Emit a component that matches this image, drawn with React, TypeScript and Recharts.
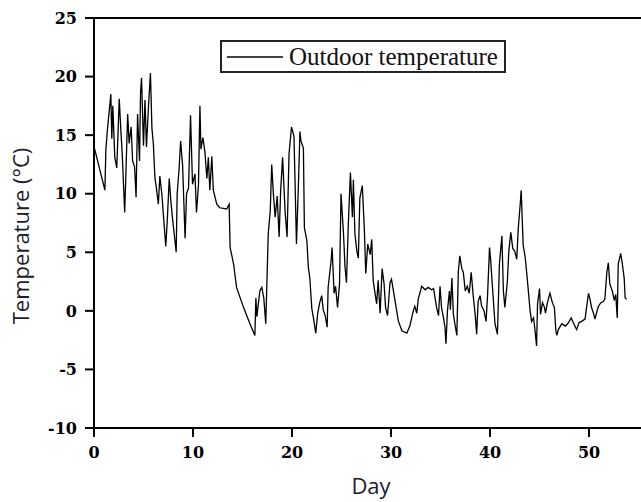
import { LineChart, Line, XAxis, YAxis, ReferenceLine, Legend } from 'recharts';

const days = [
    0, 0.1, 1.1, 1.2, 1.35, 1.7, 1.8, 1.9, 2.1, 2.3, 2.55, 2.7, 2.85, 3.1, 3.2, 3.4, 3.55, 3.75, 3.9,
    4.1, 4.25, 4.4, 4.6, 4.7, 4.8, 5.0, 5.15, 5.3, 5.5, 5.7, 5.85, 6.0, 6.15, 6.3, 6.5, 6.65, 6.85,
    7.0, 7.25, 7.4, 7.6, 7.75, 7.95, 8.15, 8.3, 8.4, 8.6, 8.75, 8.95, 9.2, 9.35, 9.55, 9.75,
    9.95, 10.2, 10.35, 10.55, 10.7, 10.8, 11.0, 11.2, 11.4, 11.55, 11.7, 11.9, 12.05, 12.4, 12.7,
    13.4, 13.65, 13.75, 14.1, 14.4, 15.1, 15.75, 16.25, 16.35, 16.45, 16.6, 16.75, 16.95, 17.15,
    17.35, 17.6, 17.8, 17.95, 18.1, 18.3, 18.5, 18.7, 18.85, 19.05, 19.3, 19.5, 19.7, 19.95, 20.2,
    20.45, 20.65, 20.8, 20.9, 21.15, 21.25, 21.5, 21.65, 21.8, 22.0, 22.2, 22.4, 22.6, 22.8, 23.0,
    23.15, 23.35, 23.55, 23.65, 23.95, 24.05, 24.25, 24.4, 24.6, 24.8, 24.95, 25.2, 25.35, 25.5,
    25.7, 25.9, 26.1, 26.2, 26.35, 26.55, 26.7, 26.85, 27.1, 27.3, 27.45, 27.65, 27.9, 28.05, 28.2,
    28.4, 28.55, 28.7, 28.9, 29.1, 29.3, 29.45, 29.65, 29.9, 30.05, 30.4, 30.75, 31.1, 31.6, 31.9,
    32.25, 32.4, 32.6, 32.75, 33.1, 33.45, 33.75, 34.1, 34.3, 34.6, 34.8, 34.95, 35.1, 35.3, 35.45,
    35.55, 35.7, 35.9, 36.0, 36.15, 36.3, 36.45, 36.65, 36.8, 36.95, 37.15, 37.3, 37.5, 37.7, 37.9,
    38.1, 38.3, 38.5, 38.65, 38.8, 39.0, 39.15, 39.4, 39.6, 39.75, 39.95, 40.05, 40.25, 40.5, 40.75,
    40.95, 41.2, 41.35, 41.5, 41.75, 41.9, 42.1, 42.3, 42.5, 42.7, 42.85, 43.05, 43.15, 43.35, 43.55,
    43.7, 43.85, 44.05, 44.2, 44.4, 44.55, 44.7, 44.8, 45.0, 45.1, 45.3, 45.5, 45.6, 45.8, 46.05,
    46.3, 46.5, 46.65, 46.75, 46.9, 47.25, 47.6, 47.85, 48.2, 48.4, 48.75, 49.0, 49.25, 49.6, 49.75,
    49.95, 50.1, 50.25, 50.45, 50.6, 50.75, 50.95, 51.2, 51.45, 51.6, 51.8, 51.95, 52.1, 52.35,
    52.55, 52.7, 52.85, 52.95, 53.2, 53.35, 53.55, 53.65, 53.8,
];

// outdoor temperature, °C
const temps = [
    14.0, 13.7, 10.3, 13.8, 15.4, 18.5, 14.7, 17.5, 13.1, 12.2, 18.1, 15.6, 13.4, 8.4, 11.1, 16.8, 14.3, 15.7, 12.8,
    12.3, 9.7, 16.8, 12.8, 18.6, 19.9, 14.1, 18.0, 14.0, 17.4, 20.3, 15.6, 14.2, 11.4, 10.5, 9.1, 11.5, 10.0,
    8.3, 5.5, 7.7, 11.3, 9.5, 7.7, 6.2, 5.0, 10.0, 12.2, 14.5, 12.4, 6.2, 10.0, 10.5, 16.7,
    10.8, 11.7, 8.4, 10.7, 17.5, 13.8, 14.8, 13.6, 11.3, 13.1, 10.3, 13.2, 10.3, 9.1, 8.8,
    8.7, 9.1, 5.4, 4.0, 2.0, 0.3, -1.1, -2.1, 1.1, -0.5, 0.6, 1.7, 2.0, 1.1,
    -1.1, 6.6, 8.5, 12.5, 10.2, 8.0, 9.8, 6.3, 10.2, 13.1, 8.5, 6.3, 13.4, 15.7, 14.9,
    5.7, 10.8, 15.3, 14.5, 13.9, 7.1, 6.0, 3.7, 2.8, 0.2, -0.8, -1.9, -0.2, 0.7, 1.3,
    0.1, -0.4, -1.4, 2.0, 4.3, 5.4, 1.5, 2.1, 0.3, 2.3, 10.0, 6.6, 3.8, 2.4,
    7.7, 11.8, 8.0, 11.2, 6.6, 5.1, 4.5, 9.6, 10.7, 7.1, 3.2, 5.7, 4.8, 6.1, 2.6,
    1.4, 0.6, 2.6, -0.2, 3.6, 2.3, 0.3, -0.4, 2.4, 2.7, 0.9, -0.9, -1.7, -1.9, -1.3,
    0.0, 0.4, -0.2, 1.0, 2.1, 1.8, 2.0, 1.8, 1.9, 0.3, -0.4, 2.1, 0.3, -0.6, -1.4,
    -2.8, 0.0, 1.7, 0.1, 2.8, -0.3, -1.1, -2.1, 3.4, 4.7, 3.6, 3.3, 1.7, 2.1, 1.5,
    3.3, 1.3, -0.3, -2.0, 0.8, 1.3, 0.4, 0.0, -0.9, 1.3, 5.4, 4.5, 2.0, -1.1, -2.0,
    4.0, 6.4, 1.7, 0.3, 2.5, 5.1, 6.7, 5.3, 5.1, 4.4, 7.0, 9.1, 10.3, 5.6, 4.6,
    3.3, 1.9, 0.0, -0.9, -0.6, -1.7, -3.0, 0.6, 1.9, -0.3, 0.7, 0.3, -0.2, 0.7, 1.5,
    0.7, 0.3, -1.7, -2.1, -1.6, -1.1, -1.3, -1.1, -0.6, -1.0, -1.6, -1.0, -0.9, -0.7, 0.3,
    1.5, 1.0, 0.3, -0.2, -0.7, -0.2, 0.4, 0.7, 0.8, 1.0, 3.3, 4.1, 2.3, 1.7,
    0.9, 1.4, -0.6, 4.0, 4.9, 4.1, 2.8, 1.1, 1.0,
];

const dayTicks = [0, 10, 20, 30, 40, 50];
const tempTicks = [-10, -5, 0, 5, 10, 15, 20, 25];
const seriesName = 'Outdoor temperature';

const data = days.map((day, i) => ({ day, temp: temps[i] }));

const tickFont = { fontFamily: '"DejaVu Serif", serif', fontWeight: 700, fontSize: 16, fill: '#000' };
const titleFont = { fontFamily: '"Open Sans", sans-serif', fontSize: 22, fill: '#1c1c2c' };
const axisStroke = { stroke: '#000', strokeWidth: 2 };

const LegendBox = () => (
    <div
        style={{
            boxSizing: 'border-box',
            width: 286,
            height: 33,
            border: '2px solid #222',
            background: '#fff',
            display: 'flex',
            alignItems: 'center',
        }}
    >
        <svg width={62} height={4} style={{ marginLeft: 5 }}>
            <line x1={0} y1={2} x2={56} y2={2} stroke="#000" strokeWidth={1.5} />
        </svg>
        <span style={{ fontFamily: '"Liberation Serif", serif', fontSize: 25, lineHeight: 1, color: '#111' }}>
            {seriesName}
        </span>
    </div>
);

export default function App() {
    return (
        <div style={{ position: 'absolute', left: 0, top: 0, width: 641, height: 502, background: '#fff' }}>
            <LineChart width={641} height={502} data={data} margin={{ top: 18, right: 0, bottom: 0, left: 0 }}>
                <XAxis
                    dataKey="day"
                    type="number"
                    domain={[0, 55.25]}
                    ticks={dayTicks}
                    height={74}
                    tickSize={9}
                    tickMargin={10}
                    axisLine={axisStroke}
                    tickLine={axisStroke}
                    tick={tickFont}
                    label={{
                        content: () => (
                            <text x={371} y={494} textAnchor="middle" style={titleFont}>
                                Day
                            </text>
                        ),
                    }}
                />
                <YAxis
                    type="number"
                    domain={[-10, 25]}
                    ticks={tempTicks}
                    width={94}
                    tickSize={9}
                    tickMargin={8}
                    axisLine={axisStroke}
                    tickLine={axisStroke}
                    tick={tickFont}
                    label={{
                        content: () => (
                            <text transform="translate(29,236) rotate(-90)" textAnchor="middle" style={titleFont}>
                                Temperature (°C)
                            </text>
                        ),
                    }}
                />
                <ReferenceLine y={25} stroke="#000" strokeWidth={2} />
                <Legend
                    verticalAlign="middle"
                    align="center"
                    content={<LegendBox />}
                    wrapperStyle={{ left: 220, top: 40, width: 286, height: 33 }}
                />
                <Line
                    type="linear"
                    dataKey="temp"
                    name={seriesName}
                    stroke="#000"
                    strokeWidth={1.3}
                    dot={false}
                    isAnimationActive={false}
                />
            </LineChart>
        </div>
    );
}
